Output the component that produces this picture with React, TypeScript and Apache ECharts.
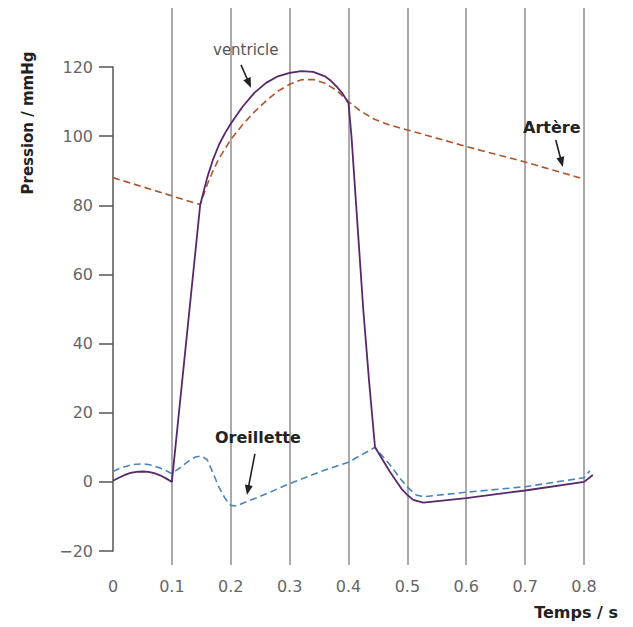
import React, { useEffect, useRef } from "react";
import * as echarts from "echarts";

// Time (s) ticks
const xTicks = [0, 0.1, 0.2, 0.3, 0.4, 0.5, 0.6, 0.7, 0.8];

// Ventricle pressure (solid)
const ventricleT = [0, 0.01, 0.02, 0.03, 0.04, 0.05, 0.06, 0.07, 0.08, 0.09, 0.1, 0.148, 0.16, 0.17, 0.18, 0.19, 0.2, 0.22, 0.24, 0.26, 0.28, 0.3, 0.32, 0.34, 0.36, 0.37, 0.38, 0.39, 0.4, 0.405, 0.415, 0.425, 0.435, 0.445, 0.47, 0.49, 0.5, 0.51, 0.527, 0.6, 0.7, 0.8, 0.815];
const ventricleP = [0.3, 1.2, 2.0, 2.6, 2.9, 3.0, 2.9, 2.5, 1.9, 1.0, 0, 80, 88, 93.3, 97.5, 100.8, 103.6, 108.5, 112.5, 115.4, 117.3, 118.3, 118.8, 118.6, 117.3, 116, 114.3, 112.3, 109.5, 100, 75, 50, 29, 10, 3, -2, -3.8, -5.2, -6, -4.7, -2.5, 0, 2];

// Artery pressure (dashed orange)
const artereT = [0, 0.148, 0.16, 0.17, 0.18, 0.19, 0.2, 0.22, 0.24, 0.26, 0.28, 0.3, 0.32, 0.34, 0.36, 0.38, 0.4, 0.42, 0.445, 0.47, 0.5, 0.6, 0.7, 0.8];
const artereP = [88, 80.2, 86, 90, 93.5, 96.3, 99, 103.3, 107, 110.2, 113, 115, 116.3, 116.4, 115.3, 113.2, 110, 107.3, 104.8, 103.2, 101.8, 97, 92.5, 87.6];

// Atrium pressure (dashed blue)
const oreilletteT = [0, 0.01, 0.02, 0.03, 0.04, 0.05, 0.06, 0.07, 0.08, 0.09, 0.1, 0.11, 0.12, 0.13, 0.14, 0.15, 0.16, 0.17, 0.18, 0.19, 0.2, 0.21, 0.22, 0.25, 0.3, 0.35, 0.4, 0.445, 0.47, 0.49, 0.5, 0.515, 0.527, 0.6, 0.7, 0.8, 0.81];
const oreilletteP = [3, 3.8, 4.4, 4.9, 5.1, 5.2, 5.0, 4.6, 4.0, 3.2, 2.4, 3.6, 4.9, 6.2, 7.2, 7.5, 6.4, 2.5, -1.6, -4.7, -6.8, -7, -6.2, -4.2, -0.5, 2.8, 5.7, 10, 5, 0.5, -1.5, -3.8, -4.3, -3, -1.4, 1.2, 3.2];

// Annotation arrows [x1, y1, x2, y2] in data units
const arrowVentricle = [0.2174, 120.6, 0.2344, 114.0];
const arrowArtere = [0.752, 98.9, 0.764, 91.1];
const arrowOreillette = [0.241, 8.1, 0.2275, -3.8];

const zip = (t: number[], p: number[]) => t.map((v, i) => [v, p[i]]);

const FONT = "DejaVu Sans";

export default function App() {
  const ref = useRef<HTMLDivElement>(null);
  useEffect(() => {
    if (!ref.current) return;
    const chart = echarts.init(ref.current, undefined, { renderer: "svg" });
    chart.setOption({
      animation: false,
      backgroundColor: "#ffffff",
      grid: [
        { left: 113, right: 49, top: 8, bottom: 62 },
        { left: 113, right: 37.2, top: 67, bottom: 76 },
      ],
      xAxis: [
        {
          gridIndex: 0,
          type: "value",
          min: xTicks[0],
          max: xTicks[xTicks.length - 1],
          interval: 0.1,
          axisLine: { show: false },
          axisTick: { show: false },
          splitLine: {
            show: true,
            showMinLine: false,
            lineStyle: { color: "#8e8e8e", width: 1.5 },
          },
          axisLabel: {
            margin: 13,
            color: "#666",
            fontFamily: FONT,
            fontSize: 16,
            formatter: (v: number) => (Math.abs(v) < 1e-9 ? "0" : v.toFixed(1)),
          },
        },
        {
          gridIndex: 1,
          type: "value",
          min: 0,
          max: 0.82,
          show: false,
        },
      ],
      yAxis: [
        { gridIndex: 0, type: "value", min: 0, max: 1, show: false },
        {
          gridIndex: 1,
          type: "value",
          min: -20,
          max: 120,
          interval: 20,
          axisLine: { show: true, lineStyle: { color: "#555", width: 1.5 } },
          axisTick: { show: true, inside: false, length: 14, lineStyle: { color: "#555", width: 1.5 } },
          splitLine: { show: false },
          axisLabel: {
            margin: 20,
            color: "#666",
            fontFamily: FONT,
            fontSize: 16,
            formatter: (v: number) => (v < 0 ? "\u2212" + Math.abs(v) : String(v)),
          },
        },
      ],
      series: [
        {
          name: "Artère",
          type: "line",
          xAxisIndex: 1,
          yAxisIndex: 1,
          data: zip(artereT, artereP),
          showSymbol: false,
          clip: false,
          lineStyle: { color: "#b0552c", width: 1.6, type: [7, 4] },
        },
        {
          name: "Oreillette",
          type: "line",
          xAxisIndex: 1,
          yAxisIndex: 1,
          data: zip(oreilletteT, oreilletteP),
          showSymbol: false,
          clip: false,
          lineStyle: { color: "#4a84b8", width: 1.6, type: [7, 4] },
        },
        {
          name: "ventricle",
          type: "line",
          xAxisIndex: 1,
          yAxisIndex: 1,
          data: zip(ventricleT, ventricleP),
          showSymbol: false,
          clip: false,
          lineStyle: { color: "#57296b", width: 1.8 },
        },
      ],
    });

    const toPx = (x: number, y: number) =>
      chart.convertToPixel({ xAxisIndex: 1, yAxisIndex: 1 } as any, [x, y]) as number[];
    const arrowGraphics = (a: number[]) => {
      const p1 = toPx(a[0], a[1]);
      const p2 = toPx(a[2], a[3]);
      const dx = p2[0] - p1[0];
      const dy = p2[1] - p1[1];
      const len = Math.sqrt(dx * dx + dy * dy);
      const ux = dx / len;
      const uy = dy / len;
      const hl = 10;
      const hw = 4;
      const bx = p2[0] - ux * hl;
      const by = p2[1] - uy * hl;
      return [
        {
          type: "line",
          shape: { x1: p1[0], y1: p1[1], x2: bx + ux * 2, y2: by + uy * 2 },
          style: { stroke: "#222", lineWidth: 1.6 },
          silent: true,
        },
        {
          type: "polygon",
          shape: {
            points: [
              [p2[0], p2[1]],
              [bx - uy * hw, by + ux * hw],
              [bx + uy * hw, by - ux * hw],
            ],
          },
          style: { fill: "#222" },
          silent: true,
        },
      ];
    };

    const textStyle = (text: string, size: number, bold: boolean, fill: string, align: string) => ({
      text,
      fontFamily: FONT,
      fontSize: size,
      fontWeight: bold ? "bold" : "normal",
      fill,
      textAlign: align,
      textVerticalAlign: "middle",
    });

    chart.setOption({
      graphic: [
        ...arrowGraphics(arrowVentricle),
        ...arrowGraphics(arrowArtere),
        ...arrowGraphics(arrowOreillette),
        {
          type: "text",
          x: 28,
          y: 123,
          rotation: Math.PI / 2,
          style: { ...textStyle("Pression / mmHg", 15, true, "#222", "center") },
        },
        {
          type: "text",
          x: 618,
          y: 612,
          style: textStyle("Temps / s", 16, true, "#222", "right"),
        },
        {
          type: "text",
          x: 213,
          y: 50,
          style: textStyle("ventricle", 15, false, "#555", "left"),
        },
        {
          type: "text",
          x: 523,
          y: 127,
          style: textStyle("Artère", 16, true, "#222", "left"),
        },
        {
          type: "text",
          x: 215,
          y: 437,
          style: textStyle("Oreillette", 16, true, "#222", "left"),
        },
      ],
    });
    return () => chart.dispose();
  }, []);
  return (
    <div
      ref={ref}
      style={{ position: "fixed", left: 0, top: 0, width: 633, height: 627, background: "#fff" }}
    />
  );
}
